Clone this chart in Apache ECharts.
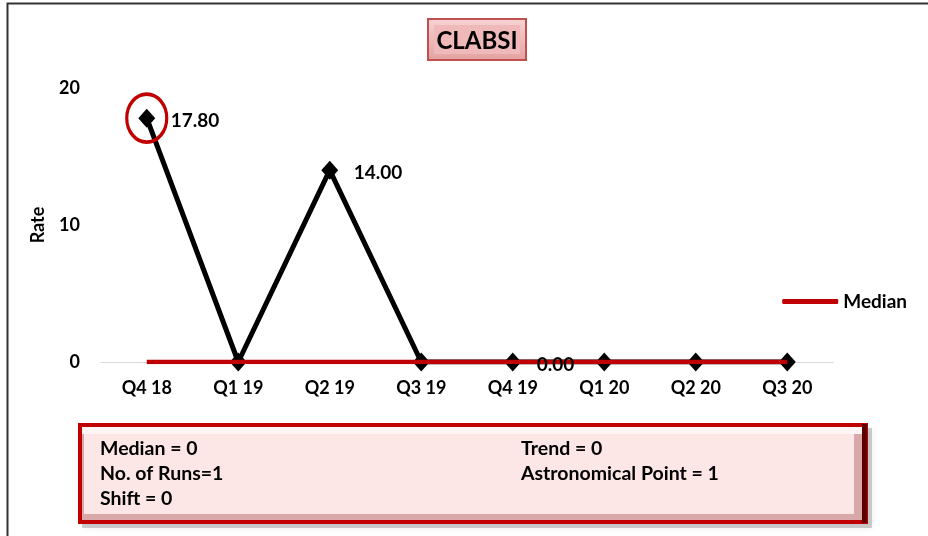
<!DOCTYPE html>
<html><head><meta charset="utf-8">
<script src="https://cdn.jsdelivr.net/npm/echarts@6/dist/echarts.min.js"></script>
<style>html,body{margin:0;padding:0;background:#fff}#c{width:928px;height:536px}</style>
</head><body><div id="c"></div>
<script>
var categories = ['Q4 18','Q1 19','Q2 19','Q3 19','Q4 19','Q1 20','Q2 20','Q3 20'];
var rates = [17.8, 0, 14, 0, 0, 0, 0, 0];
var medianValues = [0, 0, 0, 0, 0, 0, 0, 0];
var labeledIndex = [0, 2, 4];
var yTicks = [0, 10, 20];
var summaryLeft = ['Median = 0', 'No. of Runs=1', 'Shift = 0'];
var summaryRight = ['Trend = 0', 'Astronomical Point = 1'];
var titleText = 'CLABSI';

var FONT = 'Lato, "Open Sans", sans-serif';
var chart = echarts.init(document.getElementById('c'), null, {renderer:'canvas'});

var labelPoints = rates.map(function(v,i){
  return {value:v, label:{show: labeledIndex.indexOf(i)>=0}};
});

chart.setOption({
  animation:false,
  backgroundColor:'#fff',
  grid:{left:101, right:95, top:88, bottom:174},
  xAxis:{type:'category', data:categories, boundaryGap:true,
    axisLine:{show:true, lineStyle:{color:'#d9d9d9', width:1}},
    axisTick:{show:false},
    axisLabel:{color:'#000', fontFamily:FONT, fontWeight:'bold', fontSize:18, margin:17}},
  yAxis:{type:'value', min:0, max:20, interval:10,
    name:'Rate', nameLocation:'middle', nameGap:54, nameRotate:90,
    nameTextStyle:{color:'#000', fontFamily:FONT, fontWeight:'bold', fontSize:18},
    splitLine:{show:false}, axisLine:{show:false}, axisTick:{show:false},
    axisLabel:{color:'#000', fontFamily:FONT, fontWeight:'bold', fontSize:18, margin:21,
      formatter:function(v){return yTicks.indexOf(v)>=0? String(v):'';}}},
  legend:{show:true, right:16, top:287, orient:'vertical',
    data:[{name:'Median', icon:'roundRect'}],
    itemWidth:56, itemHeight:5, itemGap:4,
    textStyle:{color:'#000', fontFamily:FONT, fontWeight:'bold', fontSize:19}},
  series:[
    {name:'Rate', type:'line', data:rates, z:2,
      lineStyle:{color:'#000', width:5}, itemStyle:{color:'#000'},
      symbol:'diamond', symbolSize:[17,19],
      label:{show:false},
      markPoint:{symbol:'circle', symbolSize:[40,48], silent:true,
        itemStyle:{color:'rgba(0,0,0,0)', borderColor:'#c00000', borderWidth:3.5},
        label:{show:false},
        data:[{coord:[0, rates[0]]}]}},
    {name:'Median', type:'line', data:medianValues, z:3,
      lineStyle:{color:'#c00000', width:4.5}, itemStyle:{color:'#c00000'},
      symbol:'none', label:{show:false}},
    {name:'RateLabels', type:'scatter', data:labelPoints, z:5, symbolSize:0,
      itemStyle:{color:'rgba(0,0,0,0)', opacity:1},
      label:{position:'right', distance:24, offset:[0,3], color:'#000', opacity:1, fontFamily:FONT, fontWeight:'bold', fontSize:19,
        formatter:function(p){return p.value.toFixed(2);}}}
  ],
  graphic:[
    {type:'rect', shape:{x:7.5, y:3.5, width:940, height:560}, style:{fill:null, stroke:'#333', lineWidth:2}, z:0},
    // title box
    {type:'rect', shape:{x:428, y:19, width:98, height:41},
      style:{fill:{type:'linear',x:0,y:0,x2:0,y2:1,colorStops:[{offset:0,color:'#f8d4d4'},{offset:1,color:'#e3a0a0'}]},
        stroke:'#c0504d', lineWidth:2}, z:10},
    {type:'rect', shape:{x:434, y:25, width:86, height:29},
      style:{fill:'#f0b9b9', stroke:null}, z:10},
    {type:'text', x:477, y:41, z:11, style:{text:titleText, fill:'#000', font:'bold 24px '+FONT, textAlign:'center', textVerticalAlign:'middle'}},
    // summary box shadow
    {type:'rect', shape:{x:82, y:428, width:790, height:100}, style:{fill:'rgba(0,0,0,0.18)', shadowBlur:8, shadowColor:'rgba(0,0,0,0.4)'}, z:9},
    {type:'rect', shape:{x:78, y:423, width:790, height:101}, style:{fill:'#c00000', stroke:null}, z:10},
    {type:'rect', shape:{x:862, y:424, width:5, height:99}, style:{fill:'#5a0000', stroke:null}, z:10},
    {type:'rect', shape:{x:82, y:427, width:780, height:93}, style:{fill:'#d9a9a9', stroke:null}, z:10},
    {type:'rect', shape:{x:82, y:427, width:780, height:7}, style:{fill:'#fff4f4', stroke:null}, z:10},
    {type:'rect', shape:{x:84, y:434, width:770, height:80}, style:{fill:'#fde6e6', stroke:null}, z:10},
    {type:'group', z:11, children: summaryLeft.map(function(t,i){
      return {type:'text', x:100, y:449+i*25, z:11, style:{text:t, fill:'#000', font:'bold 19.5px '+FONT, textVerticalAlign:'middle'}};
    }).concat(summaryRight.map(function(t,i){
      return {type:'text', x:521, y:449+i*25, z:11, style:{text:t, fill:'#000', font:'bold 19.5px '+FONT, textVerticalAlign:'middle'}};
    }))}
  ]
});
</script></body></html>
